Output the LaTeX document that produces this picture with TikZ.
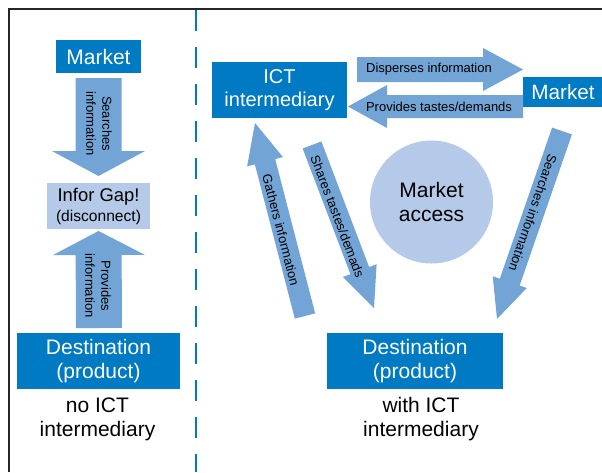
\documentclass[tikz,border=0pt]{standalone}
\usepackage{fontspec}
\setmainfont{Liberation Sans}
\usetikzlibrary{calc}
\definecolor{boxblue}{RGB}{0,122,194}
\definecolor{arrblue}{RGB}{114,165,214}
\definecolor{lightblue}{RGB}{180,202,232}
% #1 start, #2 tip, #3 shaft half width, #4 head half width, #5 head length
\newcommand{\blockarrow}[5]{%
  \coordinate (hb) at ($(#2)!#5!(#1)$);
  \fill[arrblue] ($(#1)!#3!90:(#2)$) -- ($(hb)!#3!90:(#2)$) -- ($(hb)!#4!90:(#2)$) -- (#2)
    -- ($(hb)!#4!-90:(#2)$) -- ($(hb)!#3!-90:(#2)$) -- ($(#1)!#3!-90:(#2)$) -- cycle;
}
\begin{document}
\begin{tikzpicture}[x=1pt,y=-1pt,
  box/.style={fill=boxblue, text=white, inner sep=0pt, align=center},
  lightbox/.style={fill=lightblue, text=black, inner sep=0pt, align=center},
  arrtext/.style={font=\fontsize{13}{16}\selectfont, align=center, inner sep=0pt, text=black},
  biglabel/.style={font=\fontsize{21}{24}\selectfont, align=center, inner sep=0pt, text=black}]
\useasboundingbox (0,0) rectangle (602,472);
\fill[white] (0,0) rectangle (602,472);
% frame and divider
\draw[line width=1.3pt, black!85] (9,472) -- (9,9) -- (602,9);
\draw[boxblue, line width=2.5pt, dash pattern=on 21pt off 16pt] (196,10) -- (196,472);

% ---------- left panel ----------
\node[box, minimum width=85pt, minimum height=33pt, font=\fontsize{21}{24}\selectfont] (mktL) at (98.5,56.5) {Market};
\node[lightbox, minimum width=103pt, minimum height=46pt, font=\fontsize{18.4}{20}\selectfont] (gap) at (98.5,206) {Infor Gap!\\{\fontsize{15.6}{20}\selectfont(disconnect)}};
\node[box, minimum width=163pt, minimum height=56pt, font=\fontsize{21}{24}\selectfont] (destL) at (98.5,361) {Destination\\(product)};
\node[biglabel] (labL) at (97.5,419) {no ICT\\intermediary};

\coordinate (a1s) at (98.5,78);  \coordinate (a1t) at (98.5,176);
\blockarrow{a1s}{a1t}{23pt}{46.5pt}{25pt}
\node[arrtext, rotate=-90] (t1) at (99,123.5) {Searches\\information};

\coordinate (a2s) at (99,328);  \coordinate (a2t) at (98.5,231);
\blockarrow{a2s}{a2t}{23pt}{46pt}{24pt}
\node[arrtext, rotate=-90] (t2) at (98,286) {Provides\\information};

% ---------- right panel ----------
\node[box, minimum width=135pt, minimum height=56pt, font=\fontsize{20}{23}\selectfont] (ict) at (279.5,90) {ICT\\intermediary};
\node[box, minimum width=80pt, minimum height=30pt, font=\fontsize{20.7}{24}\selectfont] (mktR) at (563,92) {Market};
\node[box, minimum width=176pt, minimum height=56pt, font=\fontsize{21}{24}\selectfont] (destR) at (415,361) {Destination\\(product)};
\node[circle, fill=lightblue, minimum size=123pt, inner sep=0pt, align=center, font=\fontsize{21}{24}\selectfont] (access) at (431.5,202) {Market\\access};
\node[biglabel] (labR) at (421,419) {with ICT\\intermediary};

\coordinate (a3s) at (357,69.5);  \coordinate (a3t) at (523,69.5);
\blockarrow{a3s}{a3t}{12.5pt}{21.5pt}{40pt}
\node[arrtext] (t3) at (429,69.5) {Disperses information};

\coordinate (a4s) at (523,106.5);  \coordinate (a4t) at (348,106.5);
\blockarrow{a4s}{a4t}{11.5pt}{21.5pt}{39pt}
\node[arrtext] (t4) at (439,107) {Provides tastes/demands};

\coordinate (a5s) at (305,316);  \coordinate (a5t) at (255,123);
\blockarrow{a5s}{a5t}{10.5pt}{18.5pt}{40pt}
\node[arrtext, rotate=-75.5] (t5) at (281,230) {Gathers information};

\coordinate (a6s) at (312,145);  \coordinate (a6t) at (374,308);
\blockarrow{a6s}{a6t}{10pt}{18pt}{40pt}
\node[arrtext, rotate=-69.2] (t6) at (337.5,216.5) {Shares tastes/demads};

\coordinate (a7s) at (562,131);  \coordinate (a7t) at (497,319);
\blockarrow{a7s}{a7t}{10.5pt}{18pt}{39pt}
\node[arrtext, rotate=-109.1] (t7) at (533,213) {Searches information};
\end{tikzpicture}
\end{document}
